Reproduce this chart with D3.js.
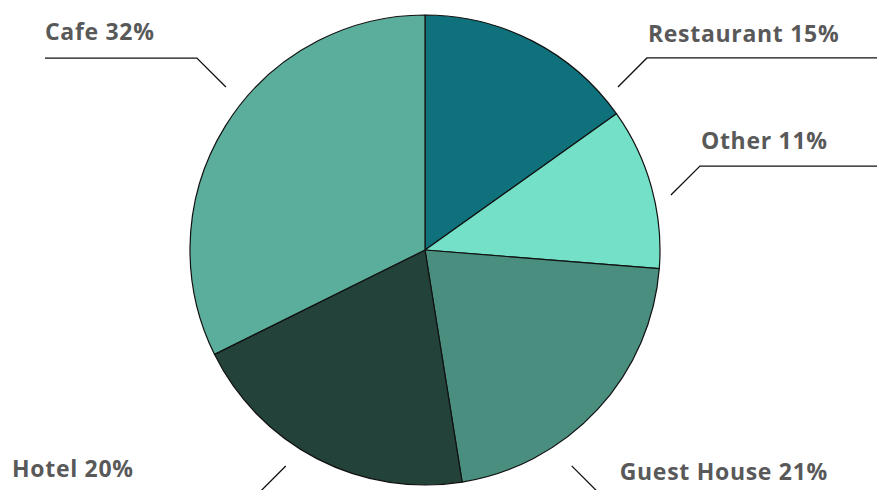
<!DOCTYPE html>
<html>
<head>
<meta charset="utf-8">
<script src="https://cdn.jsdelivr.net/npm/d3@7"></script>
<style>
  html, body { margin: 0; padding: 0; background: #ffffff; }
  svg { display: block; }
  .label { font-family: "Open Sans", sans-serif; font-weight: 700; font-size: 23px; fill: #595959; letter-spacing: 0.7px; }
</style>
</head>
<body>
<svg id="chart" width="877" height="490"></svg>
<script>
// Business types and their share (%)
const categories = ["Restaurant", "Other", "Guest House", "Hotel", "Cafe"];
const shares = [15, 11, 21, 20, 32];
const colors = ["#0e717b", "#73e0c7", "#498e7f", "#23423a", "#5bae9c"];

// Callout layout: angle (degrees clockwise from 12 o'clock) and distance from
// the centre where each leader starts, length of its diagonal elbow, the side
// its label sits on, where left-side labels begin, and the label's lift above
// the horizontal rule
const calloutAngle = [49.8, 77.4, 145.8, 212.8, 309.3];
const calloutRadius = [252.6, 252, 261, 257, 257.3];
const calloutElbow = [29, 29, 47, 47, 29];
const calloutSide = ["right", "right", "right", "left", "left"];
const calloutTextX = [null, null, null, 12, 45];
const calloutLift = [16, 17, 33, 36, 18];

const width = 877, height = 490;
const cx = 425, cy = 250, radius = 235;

const svg = d3.select("#chart");
const g = svg.append("g").attr("transform", `translate(${cx},${cy})`);

const data = categories.map((c, i) => ({ name: c, value: shares[i], color: colors[i], i }));

const pie = d3.pie().value(d => d.value).sort(null);
const arc = d3.arc().innerRadius(0).outerRadius(radius);
const arcs = pie(data);

g.selectAll("path.slice")
  .data(arcs)
  .join("path")
  .attr("class", "slice")
  .attr("d", arc)
  .attr("fill", d => d.data.color)
  .attr("stroke", "#111")
  .attr("stroke-width", 1.2)
  .attr("stroke-linejoin", "round");

// Leader lines and labels
const callouts = svg.append("g");
data.forEach((d, i) => {
  const a = calloutAngle[i] * Math.PI / 180;
  const r = calloutRadius[i];
  const elbow = calloutElbow[i];
  const side = calloutSide[i];
  const innerX = cx + r * Math.sin(a);
  const innerY = cy - r * Math.cos(a);
  const above = innerY < cy;
  const ruleY = above ? innerY - elbow : innerY + elbow;
  const cornerX = innerX + (side === "right" ? elbow : -elbow);
  const endX = side === "right" ? cornerX + 300 : calloutTextX[i];

  callouts.append("path")
    .attr("d", d3.line()([[innerX, innerY], [cornerX, ruleY], [endX, ruleY]]))
    .attr("fill", "none")
    .attr("stroke", "#111")
    .attr("stroke-width", 1.3);

  callouts.append("text")
    .attr("class", "label")
    .attr("x", side === "right" ? cornerX + 1 : calloutTextX[i])
    .attr("y", ruleY - calloutLift[i])
    .text(`${d.name} ${d.value}%`);
});
</script>
</body>
</html>
